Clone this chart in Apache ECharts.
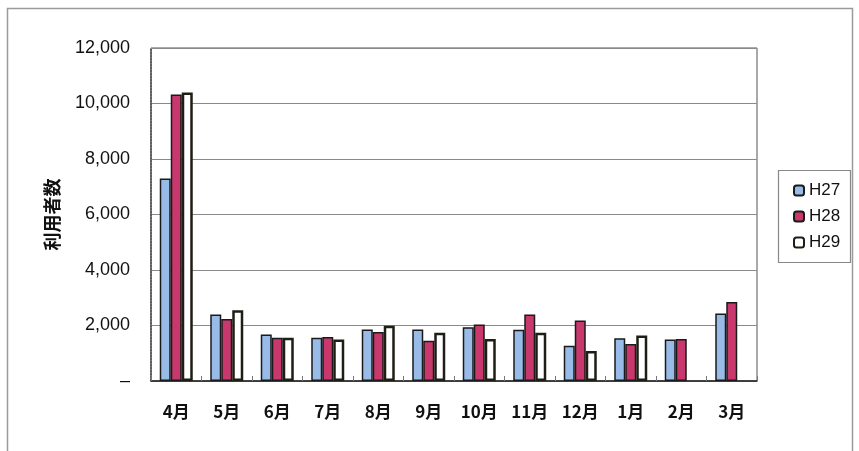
<!DOCTYPE html>
<html><head><meta charset="utf-8">
<script src="https://cdn.jsdelivr.net/npm/echarts@6/dist/echarts.min.js"></script>
<style>html,body{margin:0;padding:0;background:#fff}#c{width:859px;height:451px}</style>
</head><body><div id="c"></div>
<script>
const categories = ['4月','5月','6月','7月','8月','9月','10月','11月','12月','1月','2月','3月'];
const h27 = [7300, 2400, 1680, 1560, 1860, 1860, 1940, 1850, 1270, 1540, 1500, 2430];
const h28 = [10320, 2230, 1560, 1590, 1770, 1450, 2040, 2400, 2180, 1330, 1510, 2850];
const h29 = [10400, 2550, 1560, 1500, 1990, 1740, 1510, 1740, 1080, 1640, null, null];
const seriesNames = ['H27','H28','H29'];
const yTicks = {min: 0, max: 12000, interval: 2000};

const font = '"Noto Sans CJK JP", "Liberation Sans", sans-serif';
const numFont = '"Liberation Sans", Arial, sans-serif';
const chart = echarts.init(document.getElementById('c'));
chart.setOption({
  backgroundColor: '#fff',
  animation: false,
  textStyle: {fontFamily: font, color: '#111'},
  graphic: [{
    type: 'rect', shape: {x: 7.5, y: 8.5, width: 845, height: 460},
    style: {fill: 'none', stroke: '#9a9a9a', lineWidth: 1.5}
  }, {
    type: 'rect', shape: {x: 778.5, y: 170.5, width: 72, height: 92},
    style: {fill: '#fff', stroke: '#888', lineWidth: 1.2}
  }],
  grid: {left: 151, right: 102, top: 48, bottom: 70, show: true, borderColor: '#555', borderWidth: 1, backgroundColor: 'transparent'},
  legend: {
    orient: 'vertical', left: 788, top: 177, itemGap: 9,
    itemWidth: 10, itemHeight: 10,
    textStyle: {fontSize: 17, color: '#111', fontFamily: numFont},
    data: seriesNames
  },
  xAxis: {
    type: 'category', data: categories,
    axisLine: {lineStyle: {color: '#222', width: 1.5}},
    axisTick: {show: true, inside: true, length: 5, interval: 0, lineStyle: {color: '#777'}},
    axisLabel: {fontSize: 17, color: '#111', margin: 22, fontWeight: 'bold', interval: 0}
  },
  yAxis: {
    type: 'value', min: yTicks.min, max: yTicks.max, interval: yTicks.interval,
    name: '利用者数', nameLocation: 'middle', nameGap: 90, nameRotate: 90,
    nameTextStyle: {fontSize: 18, color: '#111', fontWeight: 'bold'},
    axisLine: {show: true, lineStyle: {color: '#444', width: 1.5, type: 'dotted'}},
    axisTick: {show: false},
    axisLabel: {fontSize: 18, color: '#111', margin: 21, fontFamily: numFont,
      formatter: v => v === 0 ? '–' : v.toLocaleString('en-US')},
    splitLine: {lineStyle: {color: '#8a8a8a', width: 1}}
  },
  series: [
    {name: 'H27', type: 'bar', data: h27, barWidth: 11, barGap: '0%',
     itemStyle: {color: '#99bbe8', borderColor: '#1a1a1a', borderWidth: 1.5}},
    {name: 'H28', type: 'bar', data: h28, barWidth: 11,
     itemStyle: {color: '#c8386c', borderColor: '#1a1a1a', borderWidth: 1.5}},
    {name: 'H29', type: 'bar', data: h29, barWidth: 11,
     itemStyle: {color: '#ffffff', borderColor: '#1e1e14', borderWidth: 2.5}}
  ]
});
</script></body></html>
